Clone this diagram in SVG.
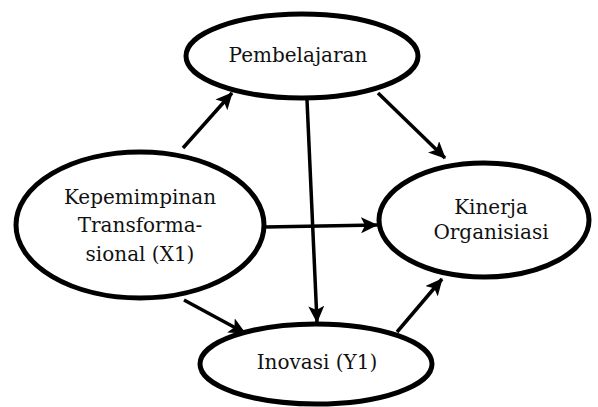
<svg xmlns="http://www.w3.org/2000/svg" width="598" height="407" viewBox="0 0 598 407">
<style>
.n{fill:#fff;stroke:#000;stroke-width:5}
.t{font-family:'DejaVu Serif','Liberation Serif',serif;font-size:20px;fill:#111;text-anchor:middle}
.c{stroke:#000;stroke-width:3.5;fill:none;marker-end:url(#ah)}
</style>
<defs>
<marker id="ah" markerUnits="userSpaceOnUse" markerWidth="18" markerHeight="16" refX="16" refY="8" orient="auto">
<path d="M0,0 L17,8 L0,16 L4,8 Z" fill="#000"/>
</marker>
</defs>
<rect width="598" height="407" fill="#fff"/>
<g id="connectors">
<line class="c" x1="183" y1="148" x2="232" y2="93"/>
<line class="c" x1="378" y1="93" x2="445" y2="158"/>
<line class="c" x1="307" y1="100" x2="317" y2="322"/>
<line class="c" x1="265" y1="227" x2="377" y2="225"/>
<line class="c" x1="184" y1="300" x2="245" y2="333"/>
<line class="c" x1="397" y1="332" x2="442" y2="279"/>
</g>
<g id="pembelajaran">
<ellipse class="n" cx="302" cy="56" rx="116" ry="42"/>
<text class="t" x="298" y="62">Pembelajaran</text>
</g>
<g id="kepemimpinan">
<ellipse class="n" cx="140" cy="225" rx="124" ry="73"/>
<text class="t" x="140" y="204">Kepemimpinan</text>
<text class="t" x="140" y="232">Transforma-</text>
<text class="t" x="140" y="261">sional (X1)</text>
</g>
<g id="kinerja">
<ellipse class="n" cx="484" cy="220" rx="105" ry="57"/>
<text class="t" x="491" y="214">Kinerja</text>
<text class="t" x="491" y="239">Organisiasi</text>
</g>
<g id="inovasi">
<ellipse class="n" cx="316" cy="364" rx="116" ry="40"/>
<text class="t" x="317" y="369">Inovasi (Y1)</text>
</g>
</svg>
